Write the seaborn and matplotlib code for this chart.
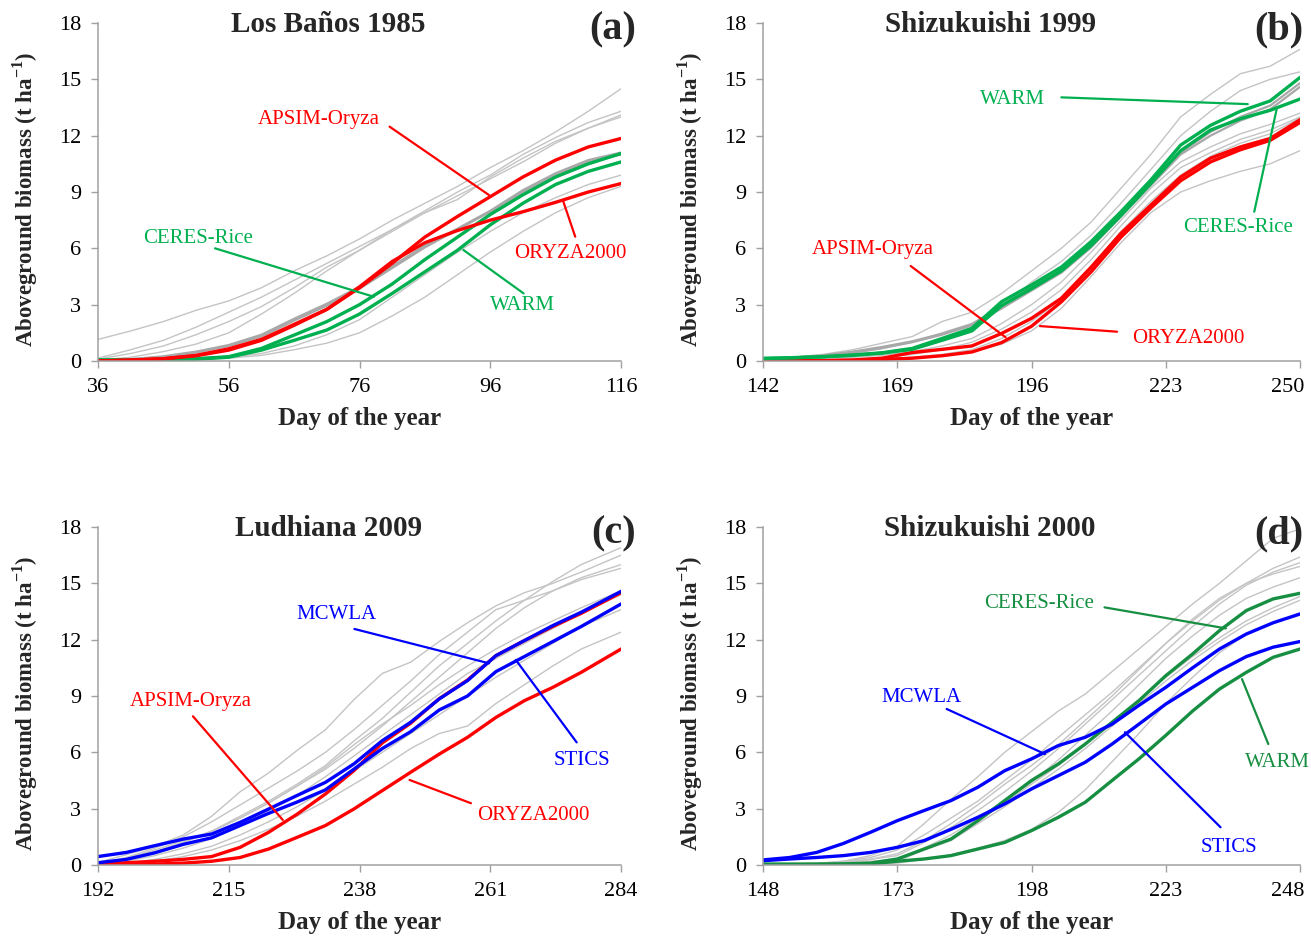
import matplotlib
matplotlib.use("Agg")
import matplotlib.pyplot as plt
import matplotlib.transforms as mtransforms
import seaborn as sns

# ---------------- data ----------------
# Panel (a) Los Baños 1985
A_DAYS = [36, 41, 46, 51, 56, 61, 66, 71, 76, 81, 86, 91, 96, 101, 106, 111, 116]
A_APSIM = [0.0, 0.05, 0.12, 0.3, 0.65, 1.15, 1.95, 2.75, 3.9, 5.2, 6.6, 7.7, 8.75, 9.8, 10.7, 11.4, 11.85]
A_ORYZA = [0.0, 0.05, 0.12, 0.28, 0.58, 1.1, 1.9, 2.75, 3.95, 5.3, 6.3, 6.95, 7.5, 7.95, 8.45, 9.0, 9.45]
A_CERES = [0.05, 0.06, 0.08, 0.12, 0.23, 0.67, 1.38, 2.1, 3.0, 4.1, 5.4, 6.6, 7.8, 8.85, 9.8, 10.5, 11.05]
A_WARM = [0.05, 0.06, 0.07, 0.1, 0.2, 0.58, 1.1, 1.65, 2.5, 3.6, 4.75, 5.9, 7.25, 8.4, 9.4, 10.1, 10.6]
A_GRAYS = [
    [1.15, 1.6, 2.1, 2.7, 3.2, 3.9, 4.8, 5.6, 6.5, 7.5, 8.4, 9.3, 10.3, 11.2, 12.2, 13.3, 14.5],
    [0.15, 0.6, 1.1, 1.8, 2.6, 3.4, 4.3, 5.2, 6.1, 7.0, 8.0, 9.0, 9.9, 11.0, 11.9, 12.7, 13.3],
    [0.1, 0.4, 0.8, 1.4, 2.1, 2.9, 3.9, 5.0, 5.9, 6.9, 7.9, 8.8, 9.7, 10.6, 11.6, 12.4, 13.1],
    [0.05, 0.2, 0.5, 0.9, 1.5, 2.5, 3.6, 4.8, 5.9, 7.0, 7.9, 8.6, 9.8, 10.8, 11.7, 12.4, 13.0],
    [0.0, 0.02, 0.05, 0.1, 0.2, 0.4, 0.8, 1.4, 2.2, 3.4, 4.6, 5.8, 6.9, 7.9, 8.7, 9.4, 9.9],
    [0.0, 0.02, 0.05, 0.1, 0.15, 0.3, 0.6, 0.95, 1.5, 2.4, 3.4, 4.6, 5.8, 6.9, 7.9, 8.7, 9.3],
]
A_GRAYS_DARK = [
    [0.0, 0.1, 0.25, 0.5, 0.85, 1.4, 2.25, 3.05, 3.95, 5.05, 6.15, 7.05, 8.0, 9.1, 10.0, 10.7, 11.1],
    [0.0, 0.1, 0.2, 0.45, 0.8, 1.3, 2.15, 2.95, 3.85, 4.95, 6.05, 7.0, 7.95, 9.0, 9.9, 10.6, 11.0],
]

# Panel (b) Shizukuishi 1999
B_DAYS = [142, 148, 154, 160, 166, 172, 178, 184, 190, 196, 202, 208, 214, 220, 226, 232, 238, 244, 250]
B_WARM = [0.14, 0.18, 0.23, 0.32, 0.44, 0.67, 1.2, 1.74, 3.16, 4.05, 5.0, 6.36, 7.95, 9.64, 11.5, 12.55, 13.3, 13.85, 15.1]
B_CERES = [0.13, 0.17, 0.22, 0.3, 0.42, 0.62, 1.1, 1.6, 2.95, 3.85, 4.8, 6.15, 7.75, 9.45, 11.2, 12.3, 12.9, 13.35, 13.95]
B_APSIM = [0.0, 0.01, 0.02, 0.05, 0.15, 0.45, 0.62, 0.8, 1.47, 2.27, 3.34, 5.0, 6.8, 8.3, 9.8, 10.8, 11.4, 11.85, 12.85]
B_ORYZA = [0.0, 0.0, 0.01, 0.03, 0.08, 0.15, 0.28, 0.48, 0.98, 1.85, 3.15, 4.75, 6.6, 8.15, 9.6, 10.6, 11.25, 11.75, 12.7]
B_GRAYS = [
    [0.12, 0.2, 0.35, 0.6, 0.95, 1.3, 2.1, 2.6, 3.6, 4.8, 6.0, 7.4, 9.2, 11.0, 13.0, 14.2, 15.3, 15.7, 16.6],
    [0.1, 0.15, 0.25, 0.4, 0.65, 1.0, 1.5, 2.0, 2.9, 4.2, 5.3, 6.7, 8.4, 10.2, 12.0, 13.3, 14.4, 15.0, 15.4],
    [0.05, 0.08, 0.12, 0.2, 0.3, 0.5, 0.8, 1.2, 2.0, 3.0, 4.2, 5.8, 7.5, 9.2, 10.6, 11.4, 12.1, 12.6, 13.2],
    [0.03, 0.05, 0.08, 0.12, 0.2, 0.35, 0.6, 1.0, 1.7, 2.6, 3.8, 5.4, 7.2, 8.9, 10.3, 11.1, 11.8, 12.3, 13.0],
    [0.0, 0.01, 0.02, 0.04, 0.08, 0.15, 0.3, 0.5, 0.9, 1.6, 2.8, 4.5, 6.3, 7.9, 9.0, 9.6, 10.1, 10.5, 11.2],
    [0.0, 0.01, 0.02, 0.04, 0.1, 0.2, 0.35, 0.6, 1.2, 2.1, 3.3, 5.0, 6.9, 8.5, 9.9, 10.9, 11.6, 12.1, 12.95],
]
B_GRAYS_DARK = [
    [0.12, 0.18, 0.3, 0.5, 0.75, 1.05, 1.45, 1.95, 2.95, 3.9, 4.85, 6.2, 7.85, 9.5, 11.1, 12.2, 13.0, 13.6, 14.8],
    [0.1, 0.16, 0.27, 0.45, 0.7, 1.0, 1.4, 1.9, 2.8, 3.75, 4.7, 6.05, 7.7, 9.35, 11.0, 12.0, 12.8, 13.4, 14.6],
]

# Panel (c) Ludhiana 2009
C_DAYS = [192, 197, 202, 207, 212, 217, 222, 227, 232, 237, 242, 247, 252, 257, 262, 267, 272, 277, 284]
C_MCWLA = [0.45, 0.67, 1.03, 1.38, 1.65, 2.27, 2.98, 3.7, 4.4, 5.38, 6.62, 7.6, 8.84, 9.82, 11.15, 11.95, 12.75, 13.46, 14.57]
C_STICS = [0.12, 0.3, 0.65, 1.1, 1.45, 2.1, 2.75, 3.35, 4.0, 5.1, 6.2, 7.1, 8.25, 9.0, 10.3, 11.1, 11.9, 12.7, 13.9]
C_APSIM = [0.05, 0.12, 0.2, 0.3, 0.45, 0.94, 1.74, 2.7, 3.78, 5.02, 6.5, 7.55, 8.85, 9.85, 11.15, 11.95, 12.7, 13.4, 14.5]
C_ORYZA = [0.0, 0.02, 0.05, 0.1, 0.2, 0.4, 0.85, 1.47, 2.1, 2.98, 3.96, 4.94, 5.9, 6.8, 7.86, 8.75, 9.46, 10.26, 11.5]
C_GRAYS = [
    [0.14, 0.55, 1.0, 1.6, 2.6, 3.9, 4.9, 6.1, 7.2, 8.8, 10.2, 10.8, 11.9, 12.9, 13.8, 14.5, 15.0, 15.6, 16.5],
    [0.05, 0.3, 0.7, 1.2, 1.8, 2.6, 3.4, 4.3, 5.3, 6.6, 7.8, 9.2, 10.6, 11.8, 13.0, 14.1, 15.1, 16.0, 16.9],
    [0.05, 0.3, 0.7, 1.2, 1.8, 2.5, 3.3, 4.2, 5.1, 6.2, 7.4, 8.7, 10.0, 11.3, 12.6, 13.7, 14.6, 15.3, 16.0],
    [0.05, 0.4, 0.9, 1.5, 2.3, 3.2, 4.1, 5.0, 6.0, 7.2, 8.5, 9.8, 11.2, 12.4, 13.6, 14.1, 14.6, 15.2, 15.8],
    [0.05, 0.2, 0.5, 0.9, 1.4, 2.1, 2.9, 3.7, 4.7, 5.8, 6.9, 8.0, 9.1, 10.2, 11.0, 11.8, 12.6, 13.4, 14.4],
    [0.02, 0.1, 0.3, 0.6, 1.0, 1.6, 2.3, 3.1, 4.0, 5.0, 6.0, 7.0, 8.0, 9.0, 10.0, 10.9, 11.8, 12.7, 13.6],
    [0.02, 0.08, 0.2, 0.45, 0.8, 1.3, 1.9, 2.6, 3.4, 4.3, 5.2, 6.2, 7.0, 7.4, 8.6, 9.6, 10.6, 11.5, 12.4],
    [0.05, 0.35, 0.8, 1.3, 1.8, 2.5, 3.3, 4.2, 5.2, 6.4, 7.5, 8.5, 9.6, 10.6, 11.5, 12.3, 13.0, 13.7, 14.6],
]

# Panel (d) Shizukuishi 2000
D_DAYS = [148, 153, 158, 163, 168, 173, 178, 183, 188, 193, 198, 203, 208, 213, 218, 223, 228, 233, 238, 243, 248]
D_MCWLA = [0.27, 0.4, 0.67, 1.15, 1.74, 2.36, 2.9, 3.43, 4.14, 5.02, 5.65, 6.36, 6.8, 7.5, 8.5, 9.46, 10.5, 11.5, 12.3, 12.9, 13.37]
D_STICS = [0.23, 0.32, 0.4, 0.5, 0.67, 0.94, 1.3, 1.9, 2.54, 3.25, 4.05, 4.76, 5.47, 6.44, 7.5, 8.57, 9.46, 10.35, 11.1, 11.6, 11.9]
D_CERES = [0.05, 0.05, 0.05, 0.06, 0.1, 0.32, 0.85, 1.38, 2.36, 3.43, 4.5, 5.38, 6.44, 7.6, 8.75, 10.08, 11.24, 12.48, 13.55, 14.17, 14.47]
D_WARM = [0.02, 0.02, 0.03, 0.04, 0.06, 0.2, 0.32, 0.5, 0.85, 1.2, 1.83, 2.54, 3.34, 4.5, 5.65, 6.9, 8.2, 9.37, 10.26, 11.06, 11.5]
D_GRAYS = [
    [0.02, 0.04, 0.08, 0.2, 0.5, 1.0, 2.2, 3.5, 4.7, 6.0, 7.1, 8.2, 9.1, 10.3, 11.5, 12.7, 13.9, 15.0, 16.2, 17.4, 17.9],
    [0.02, 0.04, 0.08, 0.2, 0.4, 0.8, 1.6, 2.5, 3.4, 4.5, 5.6, 6.8, 8.0, 9.2, 10.5, 11.8, 13.0, 14.1, 15.0, 15.8, 16.4],
    [0.02, 0.03, 0.06, 0.15, 0.3, 0.5, 1.2, 2.0, 2.9, 3.9, 5.0, 6.2, 7.5, 8.8, 10.1, 11.4, 12.7, 13.9, 14.9, 15.6, 16.1],
    [0.02, 0.03, 0.05, 0.1, 0.2, 0.3, 0.9, 1.6, 2.5, 3.4, 4.4, 5.6, 6.9, 8.2, 9.6, 11.0, 12.2, 13.3, 14.2, 14.8, 15.3],
    [0.02, 0.03, 0.05, 0.1, 0.15, 0.3, 0.9, 1.4, 2.3, 3.3, 4.3, 5.3, 6.4, 7.6, 8.8, 10.0, 11.1, 12.1, 13.0, 13.7, 14.3],
    [0.02, 0.03, 0.05, 0.08, 0.12, 0.2, 0.8, 1.3, 2.2, 3.1, 4.1, 5.1, 6.2, 7.4, 8.6, 9.8, 10.9, 11.9, 12.8, 13.5, 14.1],
    [0.0, 0.01, 0.02, 0.03, 0.05, 0.1, 0.3, 0.55, 0.9, 1.3, 1.9, 2.8, 4.0, 5.5, 7.0, 8.6, 10.0, 11.3, 12.3, 12.9, 13.3],
    [0.02, 0.04, 0.07, 0.15, 0.3, 0.6, 1.3, 2.2, 3.2, 4.3, 5.3, 6.4, 7.7, 9.0, 10.4, 11.8, 13.1, 14.2, 15.0, 15.5, 15.9],
]

TITLES = ["Los Baños 1985", "Shizukuishi 1999", "Ludhiana 2009", "Shizukuishi 2000"]
LETTERS = ["(a)", "(b)", "(c)", "(d)"]
XTICKS = [[36, 56, 76, 96, 116], [142, 169, 196, 223, 250], [192, 215, 238, 261, 284], [148, 173, 198, 223, 248]]
YTICKS = [0, 3, 6, 9, 12, 15, 18]

# ---------------- style ----------------
sns.set_style("white")
plt.rcParams["font.family"] = ["Liberation Serif", "DejaVu Serif"]
plt.rcParams["mathtext.fontset"] = "custom"
plt.rcParams["mathtext.rm"] = "Liberation Serif"
plt.rcParams["mathtext.bf"] = "Liberation Serif:bold"

RED = "#FF0000"
GREEN = "#00B050"
DGREEN = "#178F42"
BLUE = "#0000FF"
GRAY = "#C4C4C4"
DGRAY = "#A8A8A8"
SPINE = "#A0A0A0"

fig = plt.figure(figsize=(13.11, 9.36), dpi=100)
W, H = 1311.0, 936.0
boxes = [(98, 23, 621, 361), (763, 23, 1300, 361), (98, 527, 621, 865), (763, 527, 1300, 865)]
axes = []
for (l, t, r, b) in boxes:
    axes.append(fig.add_axes([l / W, (H - b) / H, (r - l) / W, (b - t) / H]))


def draw(ax, x, y, color, lw):
    sns.lineplot(x=x, y=y, ax=ax, color=color, linewidth=lw, legend=False)


def label(ax, text, txy, start, end, color):
    ax.annotate("", xy=end, xytext=start,
                arrowprops=dict(arrowstyle="-", color=color, lw=1.6, shrinkA=0, shrinkB=0))
    ax.text(txy[0], txy[1], text, color=color, fontsize=15, ha="center", va="center")


THICK = 2.4
# (a)
ax = axes[0]
for g in A_GRAYS:
    draw(ax, A_DAYS, g, GRAY, 1.0)
for g in A_GRAYS_DARK:
    draw(ax, A_DAYS, g, DGRAY, 1.6)
draw(ax, A_DAYS, A_WARM, GREEN, THICK)
draw(ax, A_DAYS, A_CERES, GREEN, THICK)
draw(ax, A_DAYS, A_ORYZA, RED, THICK)
draw(ax, A_DAYS, A_APSIM, RED, THICK)
label(ax, "APSIM-Oryza", (69.8, 12.87), (80.6, 12.48), (95.8, 8.84), RED)
label(ax, "CERES-Rice", (51.3, 6.5), (53.9, 6.0), (78.2, 3.42), GREEN)
label(ax, "WARM", (101.0, 2.98), (101.1, 3.6), (91.9, 5.91), GREEN)
label(ax, "ORYZA2000", (108.3, 5.75), (109.0, 6.62), (107.1, 8.57), RED)

# (b)
ax = axes[1]
for g in B_GRAYS:
    draw(ax, B_DAYS, g, GRAY, 1.0)
for g in B_GRAYS_DARK:
    draw(ax, B_DAYS, g, DGRAY, 1.6)
draw(ax, B_DAYS, B_ORYZA, RED, THICK)
draw(ax, B_DAYS, B_APSIM, RED, THICK)
draw(ax, B_DAYS, B_CERES, GREEN, THICK)
draw(ax, B_DAYS, B_WARM, GREEN, THICK)
label(ax, "WARM", (192.1, 13.93), (202.0, 14.04), (239.5, 13.68), GREEN)
label(ax, "CERES-Rice", (237.5, 7.12), (240.8, 7.95), (245.3, 13.4), GREEN)
label(ax, "APSIM-Oryza", (164.1, 5.95), (171.7, 5.06), (190.8, 1.26), RED)
label(ax, "ORYZA2000", (227.6, 1.2), (213.2, 1.56), (197.7, 1.86), RED)

# (c)
ax = axes[2]
for g in C_GRAYS:
    draw(ax, C_DAYS, g, GRAY, 1.0)
draw(ax, C_DAYS, C_ORYZA, RED, THICK)
draw(ax, C_DAYS, C_APSIM, RED, THICK)
draw(ax, C_DAYS, C_STICS, BLUE, THICK)
draw(ax, C_DAYS, C_MCWLA, BLUE, THICK)
label(ax, "MCWLA", (234.0, 13.33), (237.1, 12.57), (260.8, 10.74), BLUE)
label(ax, "STICS", (277.1, 5.59), (276.2, 6.53), (265.5, 10.92), BLUE)
label(ax, "APSIM-Oryza", (208.3, 8.72), (208.7, 7.92), (224.5, 2.40), RED)
label(ax, "ORYZA2000", (268.6, 2.63), (257.6, 3.29), (246.8, 4.53), RED)

# (d)
ax = axes[3]
for g in D_GRAYS:
    draw(ax, D_DAYS, g, GRAY, 1.0)
draw(ax, D_DAYS, D_WARM, DGREEN, THICK)
draw(ax, D_DAYS, D_CERES, DGREEN, THICK)
draw(ax, D_DAYS, D_STICS, BLUE, THICK)
draw(ax, D_DAYS, D_MCWLA, BLUE, THICK)
label(ax, "CERES-Rice", (199.5, 13.9), (211.6, 13.72), (234.2, 12.6), DGREEN)
label(ax, "MCWLA", (177.5, 8.93), (182.2, 8.31), (200.5, 5.91), BLUE)
label(ax, "STICS", (234.7, 0.94), (233.2, 2.01), (215.4, 7.07), BLUE)
label(ax, "WARM", (243.9, 5.47), (242.1, 6.44), (237.2, 9.9), DGREEN)

title_x = [0.44, 0.423, 0.44, 0.423]
letter_x = [0.985, 0.96, 0.985, 0.96]
ylab_x = [-0.11, -0.108, -0.11, -0.108]
for i, ax in enumerate(axes):
    xt = XTICKS[i]
    ax.set_xlim(xt[0], xt[-1])
    ax.set_ylim(0, 18)
    ax.set_xticks(xt)
    ax.set_yticks(YTICKS)
    for s in ("top", "right"):
        ax.spines[s].set_visible(False)
    for s in ("left", "bottom"):
        ax.spines[s].set_color(SPINE)
        ax.spines[s].set_linewidth(1.1)
    ax.tick_params(axis="both", direction="out", length=5, width=1.0, color=SPINE,
                   labelsize=16, labelcolor="black", bottom=True, left=True)
    ax.tick_params(axis="x", pad=7)
    ax.tick_params(axis="y", pad=7)
    ax.set_xlabel("Day of the year", fontsize=18, fontweight="bold")
    ax.set_ylabel(r"Aboveground biomass (t ha$^{\mathbf{-1}}$)", fontsize=16.5, fontweight="bold")
    ax.xaxis.set_label_coords(0.5, -0.135)
    ax.yaxis.set_label_coords(ylab_x[i], 0.478)
    ax.text(title_x[i], 0.995, TITLES[i], transform=ax.transAxes, ha="center", va="center",
            fontsize=21, fontweight="bold")
    ax.text(letter_x[i], 0.98, LETTERS[i], transform=ax.transAxes, ha="center", va="center",
            fontsize=29, fontweight="bold")
    ax.grid(False)
    if i in (1, 3):
        last = ax.get_xticklabels()[-1]
        last.set_ha("right")
        last.set_transform(last.get_transform() + mtransforms.ScaledTranslation(4 / 100, 0, fig.dpi_scale_trans))

fig.savefig("out.png", dpi=100, facecolor="white")
